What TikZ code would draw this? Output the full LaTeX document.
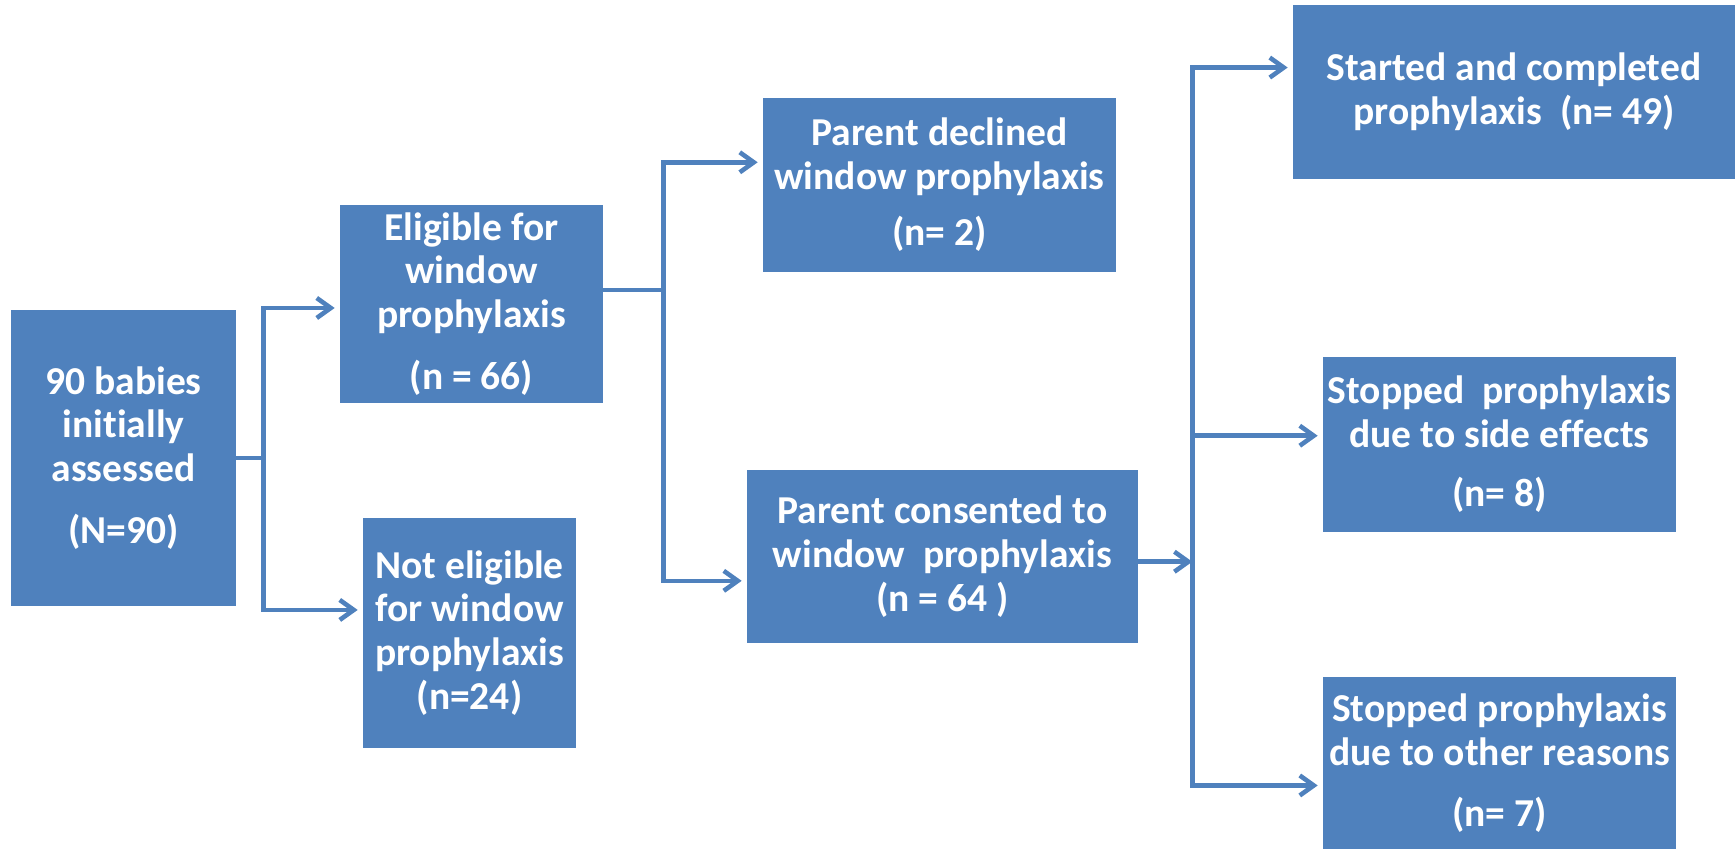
\documentclass[tikz,border=0pt]{standalone}
\usepackage{fontspec}
\setmainfont[Ligatures=NoCommon]{Carlito}
\usetikzlibrary{arrows.meta,calc}
\definecolor{boxblue}{RGB}{79,129,189}

\begin{document}
\begin{tikzpicture}[x=0.02cm,y=-0.02cm,
  stage/.style={rectangle,fill=boxblue,text=white,inner sep=0pt,align=center,
    font=\bfseries\fontsize{22.5}{25}\selectfont},
  flow/.style={draw=boxblue,line width=2.6pt},
  flowto/.style={flow,-{Straight Barb[length=2.8mm,width=4mm]},shorten >=1mm}]
\useasboundingbox (0,0) rectangle (1736,849);

\node[stage,minimum width=4.5cm,minimum height=5.92cm] (A) at (123.5,458) {90 babies\\initially\\assessed\\[0.36cm](N=90)};
\node[stage,minimum width=5.26cm,minimum height=3.96cm] (B) at (471.5,304) {Eligible for\\window\\prophylaxis\\[0.36cm](n = 66)};
\node[stage,minimum width=4.26cm,minimum height=4.6cm] (C) at (469.5,633) {Not eligible\\for window\\prophylaxis\\(n=24)};
\node[stage,minimum width=7.06cm,minimum height=3.48cm] (D) at (939.5,185) {Parent declined\\window prophylaxis\\[0.24cm](n= 2)};
\node[stage,minimum width=7.82cm,minimum height=3.46cm] (E) at (942.5,556.5) {Parent consented to\\window~ prophylaxis\\(n = 64 )};
\node[stage,minimum width=8.84cm,minimum height=3.48cm] (F) at (1514,92) {Started and completed\\prophylaxis~ (n= 49)};
\node[stage,minimum width=7.06cm,minimum height=3.5cm] (G) at (1499.5,444.5) {Stopped~ prophylaxis\\due to side effects\\[0.3cm](n= 8)};
\node[stage,minimum width=7.06cm,minimum height=3.44cm] (H) at (1499.5,763) {Stopped prophylaxis\\due to other reasons\\[0.34cm](n= 7)};

\draw[flow] (A.east) -- ++(27,0) coordinate (s1);
\draw[flowto] (s1) |- ($(B.north west)!0.52!(B.south west)$);
\draw[flowto] (s1) |- ($(C.north west)!0.4!(C.south west)$);

\draw[flow] ($(B.north east)!0.43!(B.south east)$) -- ++(60,0) coordinate (s2);
\draw[flowto] (s2) |- ($(D.north west)!0.37!(D.south west)$);
\draw[flowto] (s2) |- ($(E.north west)!0.64!(E.south west)$);

\draw[flowto,shorten >=0pt] ($(E.north east)!0.53!(E.south east)$) -- ++(54,0) coordinate (s3);
\draw[flowto] (s3) |- ($(F.north west)!0.36!(F.south west)$);
\draw[flowto] (s3) |- ($(G.north west)!0.45!(G.south west)$);
\draw[flowto] (s3) |- ($(H.north west)!0.63!(H.south west)$);
\end{tikzpicture}
\end{document}
